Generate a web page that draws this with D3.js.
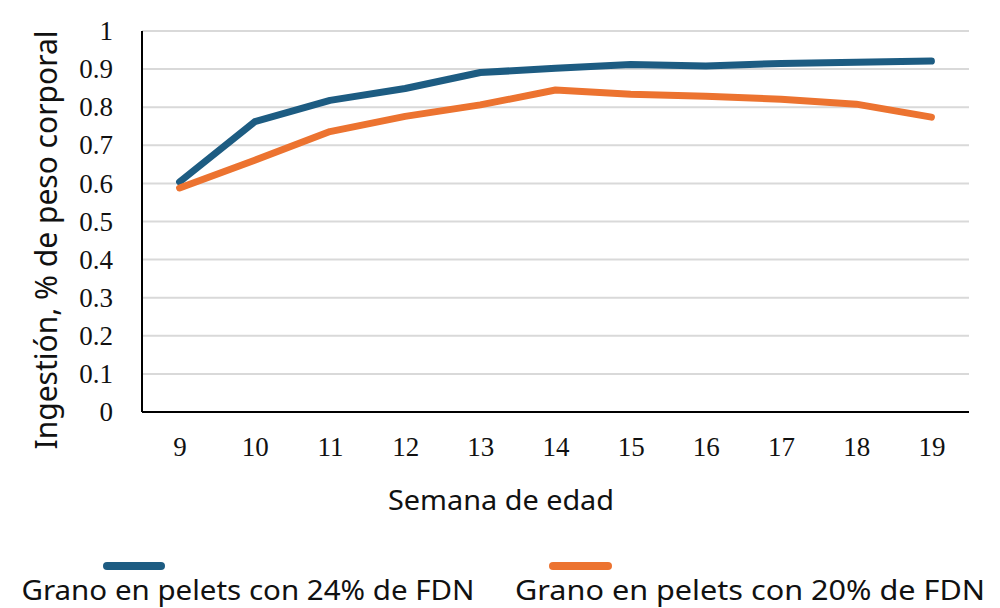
<!DOCTYPE html>
<html>
<head>
<meta charset="utf-8">
<script src="https://cdn.jsdelivr.net/npm/d3@7"></script>
<style>
  body { margin: 0; background: #fff; }
  svg { display: block; }
</style>
</head>
<body>
<div id="chart"></div>
<script>
// data
var weeks = [9, 10, 11, 12, 13, 14, 15, 16, 17, 18, 19];
var fdn24 = [0.604, 0.762, 0.818, 0.849, 0.891, 0.902, 0.912, 0.908, 0.915, 0.918, 0.921];
var fdn20 = [0.588, 0.661, 0.736, 0.776, 0.806, 0.845, 0.834, 0.829, 0.821, 0.808, 0.774];
var yTicks = [0, 0.1, 0.2, 0.3, 0.4, 0.5, 0.6, 0.7, 0.8, 0.9, 1];
var seriesNames = ["Grano en pelets con 24% de FDN", "Grano en pelets con 20% de FDN"];
var colors = ["#1d5c82", "#ec7330"];

var W = 1000, H = 608;
var mLeft = 142, mRight = 969, mTop = 31, mBottom = 412;

var svg = d3.select("#chart").append("svg")
    .attr("width", W)
    .attr("height", H);

var x = d3.scalePoint().domain(weeks).range([mLeft, mRight]).padding(0.5);
var y = d3.scaleLinear().domain([0, 1]).range([mBottom, mTop]);

// gridlines
svg.append("g").selectAll("line").data(yTicks.slice(1)).enter().append("line")
    .attr("x1", mLeft).attr("x2", mRight)
    .attr("y1", function(d) { return y(d); })
    .attr("y2", function(d) { return y(d); })
    .attr("stroke", "#d9d9d9")
    .attr("stroke-width", 2);

var serif = "'Liberation Serif', 'Times New Roman', serif";

// y axis
var yAxis = svg.append("g")
    .attr("transform", "translate(" + mLeft + ",0)")
    .call(d3.axisLeft(y).tickValues(yTicks).tickSize(0).tickPadding(29)
        .tickFormat(function(d) { return String(+d.toFixed(1)); }));
yAxis.select(".domain").attr("stroke", "#000").attr("stroke-width", 2)
    .attr("d", "M0," + mTop + "V" + mBottom);
yAxis.selectAll("text")
    .attr("font-family", serif)
    .attr("font-size", 27)
    .attr("fill", "#111");

// x axis
var xAxis = svg.append("g")
    .attr("transform", "translate(0," + mBottom + ")")
    .call(d3.axisBottom(x).tickSize(0).tickPadding(25));
xAxis.select(".domain").attr("stroke", "#000").attr("stroke-width", 2)
    .attr("d", "M" + mLeft + ",0H" + mRight);
xAxis.selectAll("text")
    .attr("font-family", serif)
    .attr("font-size", 27)
    .attr("fill", "#111");

// lines
var line = d3.line()
    .x(function(d, i) { return x(weeks[i]); })
    .y(function(d) { return y(d); });

[fdn24, fdn20].forEach(function(s, k) {
    svg.append("path")
        .datum(s)
        .attr("d", line)
        .attr("fill", "none")
        .attr("stroke", colors[k])
        .attr("stroke-width", 7)
        .attr("stroke-linecap", "round")
        .attr("stroke-linejoin", "round");
});

var sans = "'Noto Sans', sans-serif";

// axis titles
svg.append("text")
    .attr("x", 501).attr("y", 510)
    .attr("text-anchor", "middle")
    .attr("font-family", sans)
    .attr("font-size", 28)
    .attr("textLength", 226)
    .attr("lengthAdjust", "spacingAndGlyphs")
    .attr("fill", "#111")
    .text("Semana de edad");

svg.append("text")
    .attr("transform", "translate(57,240) rotate(-90)")
    .attr("text-anchor", "middle")
    .attr("font-family", sans)
    .attr("font-size", 30)
    .attr("fill", "#111")
    .text("Ingestión, % de peso corporal");

// legend
var legX = [[107, 161], [553, 608]];
var legTextX = [248, 750];
var legTextW = [453, 470];
seriesNames.forEach(function(name, k) {
    svg.append("line")
        .attr("x1", legX[k][0]).attr("x2", legX[k][1])
        .attr("y1", 566).attr("y2", 566)
        .attr("stroke", colors[k])
        .attr("stroke-width", 8)
        .attr("stroke-linecap", "round");
    svg.append("text")
        .attr("x", legTextX[k]).attr("y", 600)
        .attr("text-anchor", "middle")
        .attr("font-family", sans)
        .attr("font-size", 28)
        .attr("textLength", legTextW[k])
        .attr("lengthAdjust", "spacingAndGlyphs")
        .attr("fill", "#111")
        .text(name);
});
</script>
</body>
</html>
